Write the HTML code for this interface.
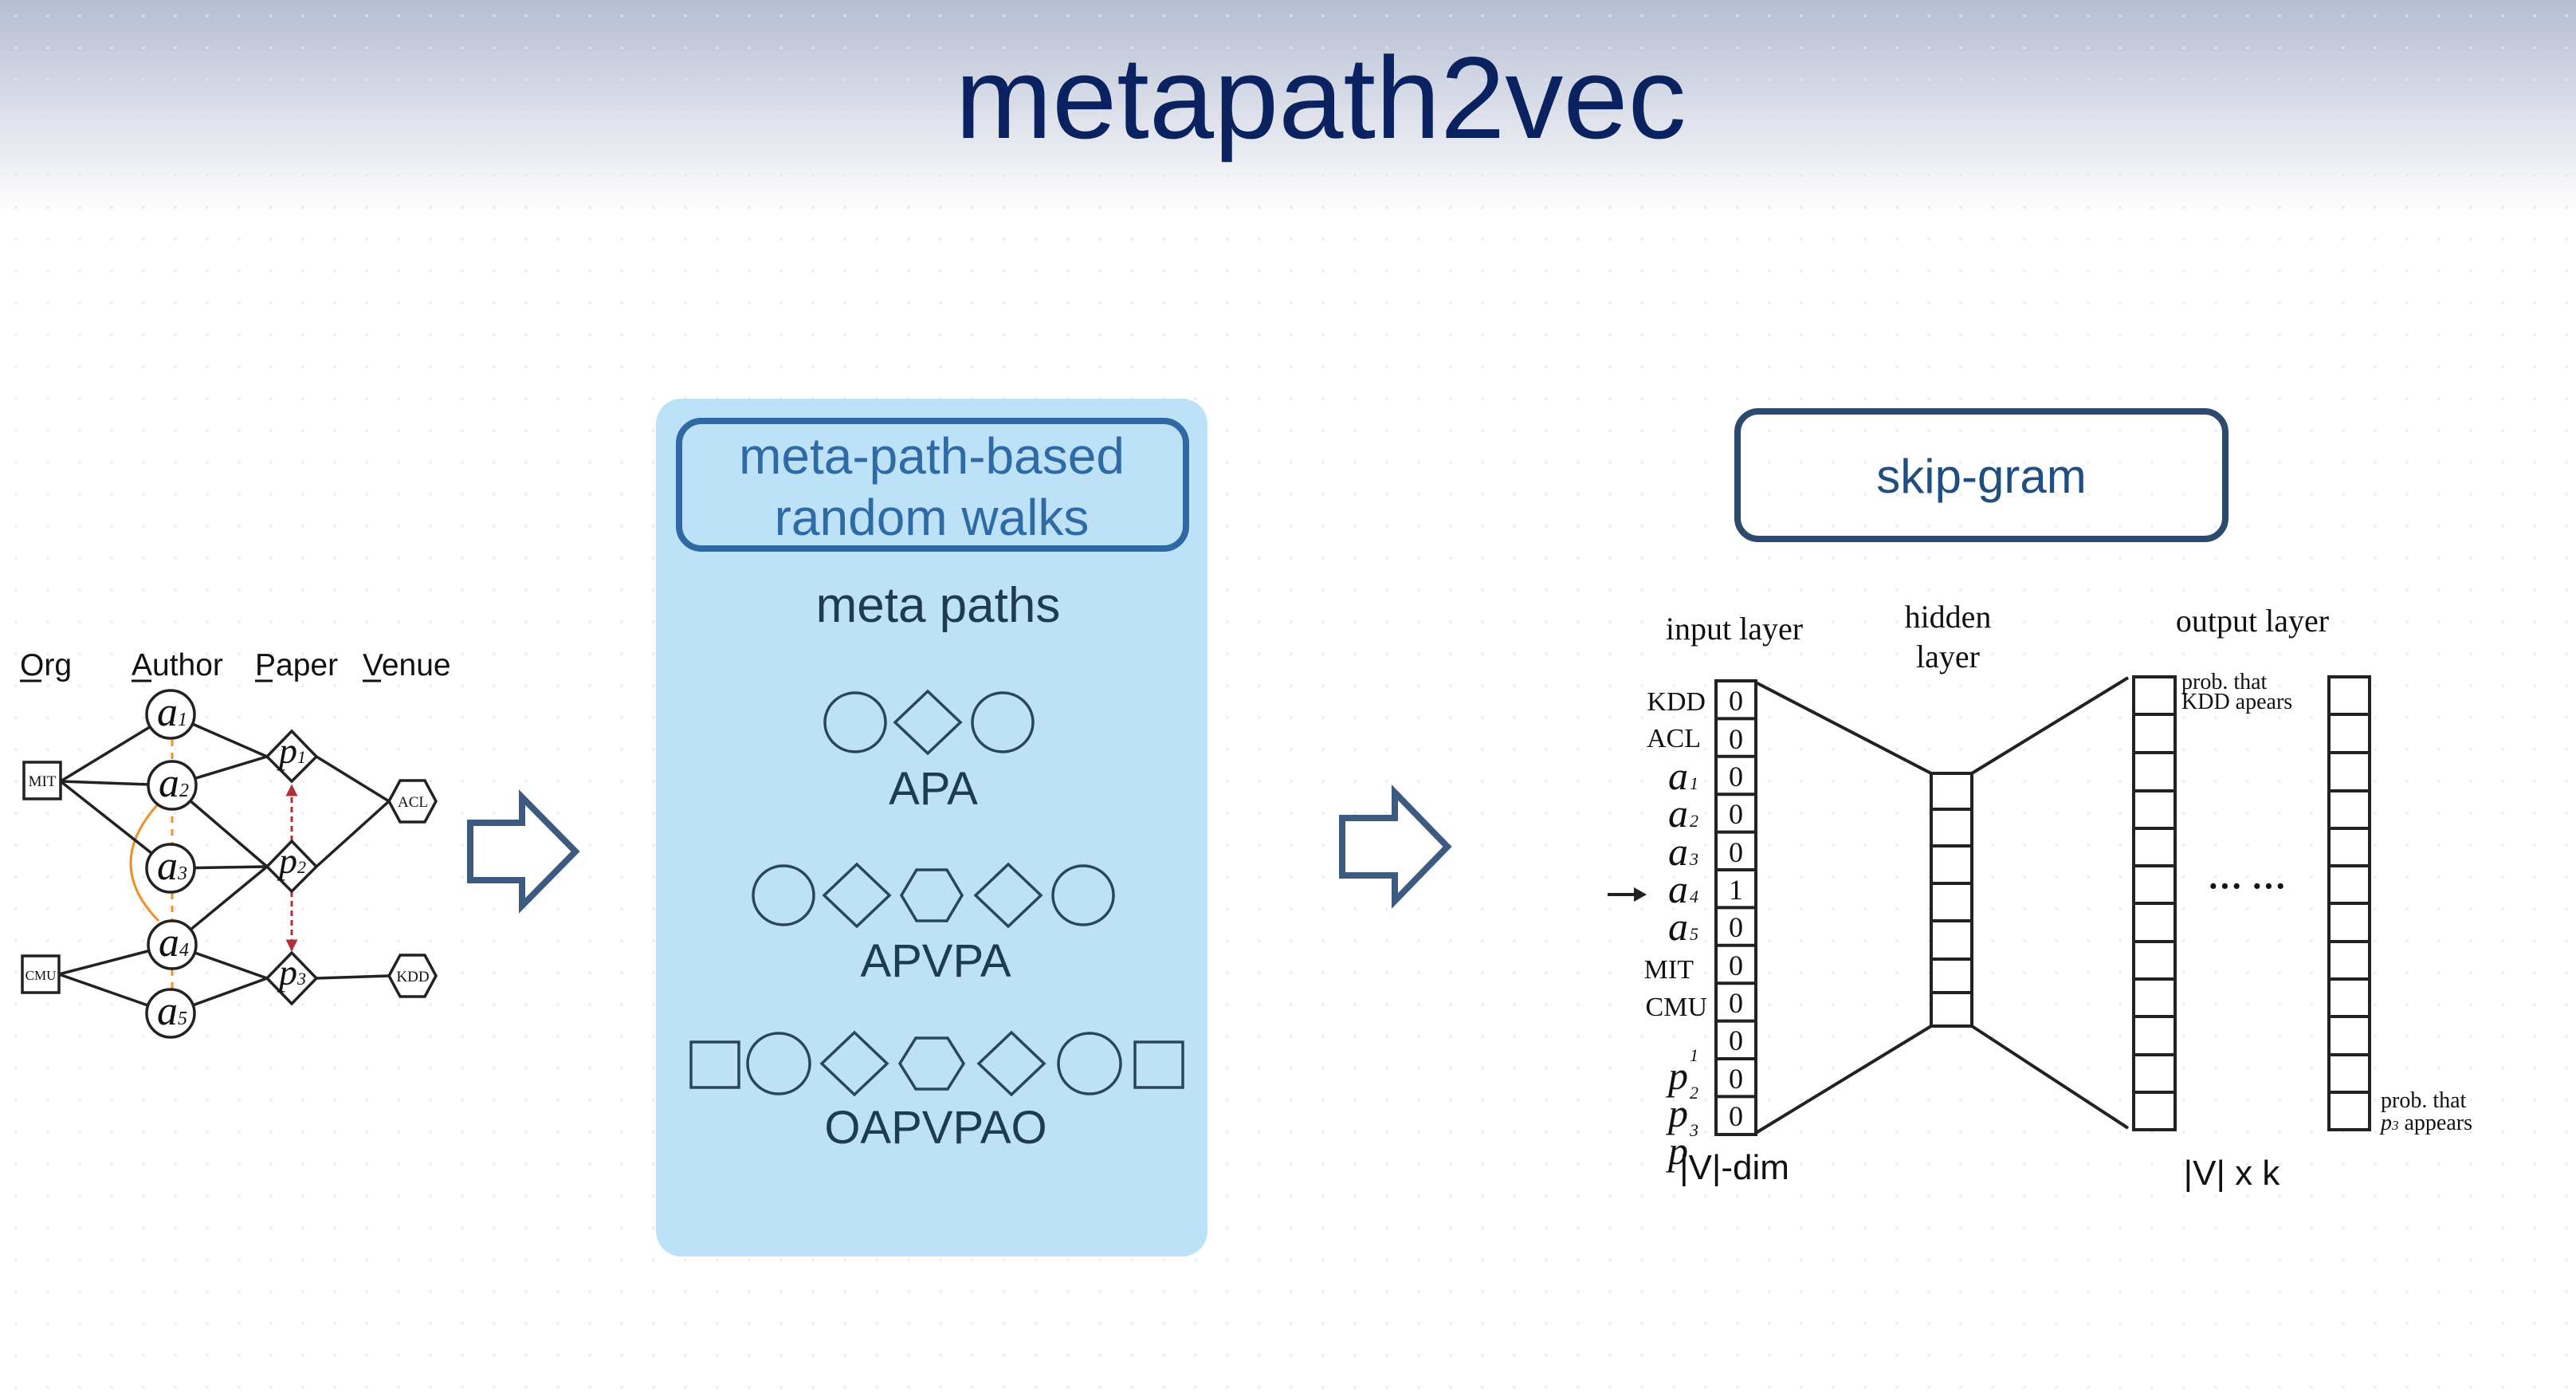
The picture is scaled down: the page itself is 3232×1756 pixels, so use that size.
<!DOCTYPE html>
<html><head><meta charset="utf-8"><style>
html,body{margin:0;padding:0;background:#fff;}
svg{display:block;}
</style></head><body>
<svg width="3232" height="1756" viewBox="0 0 3232 1756" xmlns="http://www.w3.org/2000/svg">
<defs>
<linearGradient id="bg" x1="0" y1="0" x2="0" y2="1">
<stop offset="0" stop-color="#b6bdd2"/><stop offset="1" stop-color="#ffffff"/>
</linearGradient>
<pattern id="dots" width="40" height="40" patternUnits="userSpaceOnUse">
<circle cx="20" cy="20" r="2" fill="#e4e5ec"/>
</pattern>
<marker id="ar" viewBox="0 0 10 10" refX="9" refY="5" markerWidth="5" markerHeight="5" orient="auto-start-reverse">
<path d="M0,0 L10,5 L0,10 z" fill="#b0303a"/>
</marker>
</defs>
<rect width="3232" height="1756" fill="#fff"/>
<rect width="3232" height="270" fill="url(#bg)"/>
<rect width="3232" height="1756" fill="url(#dots)" opacity="0.7"/>

<text x="1657" y="173" text-anchor="middle" font-family="Liberation Sans, sans-serif" font-size="146" fill="#0a2260">metapath2vec</text>

<!-- Left graph -->
<g font-family="Liberation Sans, sans-serif" font-size="39" fill="#111">
<text x="25" y="847">Org</text>
<text x="165" y="847">Author</text>
<text x="320" y="847">Paper</text>
<text x="455" y="847">Venue</text>
</g>
<g stroke="#111" stroke-width="3">
<line x1="25" y1="854" x2="52" y2="854"/>
<line x1="165" y1="854" x2="190" y2="854"/>
<line x1="320" y1="854" x2="342" y2="854"/>
<line x1="455" y1="854" x2="478" y2="854"/>
</g>
<g stroke="#f0902a" stroke-width="3" fill="none">
<line x1="216" y1="896" x2="216" y2="1271" stroke-dasharray="8,8"/>
<path d="M197,1010 Q130,1085 199,1155"/>
</g>
<g stroke="#222" stroke-width="3.5" fill="none">
<line x1="76" y1="980" x2="214" y2="896"/>
<line x1="76" y1="980" x2="216" y2="985"/>
<line x1="76" y1="980" x2="214" y2="1089"/>
<line x1="74" y1="1222" x2="216" y2="1185"/>
<line x1="74" y1="1222" x2="214" y2="1271"/>
<line x1="214" y1="896" x2="335" y2="949"/>
<line x1="216" y1="985" x2="335" y2="949"/>
<line x1="216" y1="985" x2="335" y2="1087"/>
<line x1="214" y1="1089" x2="335" y2="1087"/>
<line x1="216" y1="1185" x2="335" y2="1087"/>
<line x1="216" y1="1185" x2="335" y2="1227"/>
<line x1="214" y1="1271" x2="335" y2="1227"/>
<line x1="397" y1="949" x2="488" y2="1005"/>
<line x1="397" y1="1087" x2="488" y2="1005"/>
<line x1="397" y1="1227" x2="488" y2="1224"/>
</g>
<g stroke="#b0303a" stroke-width="3" stroke-dasharray="7,5" fill="none">
<line x1="366" y1="1055" x2="366" y2="985" marker-end="url(#ar)"/>
<line x1="366" y1="1118" x2="366" y2="1192" marker-end="url(#ar)"/>
</g>
<g stroke="#222" stroke-width="3.5" fill="#fff">
<rect x="30" y="956" width="46" height="46"/>
<rect x="28" y="1199" width="46" height="46"/>
<circle cx="214" cy="896" r="30"/>
<circle cx="216" cy="985" r="30"/>
<circle cx="214" cy="1089" r="30"/>
<circle cx="216" cy="1185" r="30"/>
<circle cx="214" cy="1271" r="30"/>
<polygon points="335,949 366,917 397,949 366,980"/>
<polygon points="335,1087 366,1055 397,1087 366,1118"/>
<polygon points="335,1227 366,1195 397,1227 366,1259"/>
<polygon points="488,1005 502,979 533,979 547,1005 533,1031 502,1031"/>
<polygon points="488,1224 502,1198 533,1198 547,1224 533,1250 502,1250"/>
</g>
<g font-family="Liberation Serif, serif" fill="#111">
<text x="53" y="986" font-size="19" text-anchor="middle">MIT</text>
<text x="51" y="1229" font-size="17" text-anchor="middle">CMU</text>
<text x="518" y="1012" font-size="19" text-anchor="middle">ACL</text>
<text x="518" y="1231" font-size="19" text-anchor="middle">KDD</text>
<g font-style="italic">
<text x="197" y="910" font-size="52">a<tspan font-size="24">1</tspan></text>
<text x="199" y="999" font-size="52">a<tspan font-size="24">2</tspan></text>
<text x="197" y="1103" font-size="52">a<tspan font-size="24">3</tspan></text>
<text x="199" y="1199" font-size="52">a<tspan font-size="24">4</tspan></text>
<text x="197" y="1285" font-size="52">a<tspan font-size="24">5</tspan></text>
<text x="350" y="957" font-size="46">p<tspan font-size="22">1</tspan></text>
<text x="350" y="1095" font-size="46">p<tspan font-size="22">2</tspan></text>
<text x="350" y="1235" font-size="46">p<tspan font-size="22">3</tspan></text>
</g>
</g>

<!-- Big arrows -->
<g fill="#fff" stroke="#3d5a80" stroke-width="8" stroke-linejoin="miter">
<polygon points="590,1032 655,1032 655,1000 722,1068 655,1136 655,1104 590,1104"/>
<polygon points="1684,1026 1750,1026 1750,994 1816,1062 1750,1130 1750,1098 1684,1098"/>
</g>

<!-- Middle panel -->
<rect x="823" y="500" width="692" height="1076" rx="32" fill="#bde1f6"/>
<rect x="852" y="528" width="636" height="160" rx="28" fill="none" stroke="#2f69a3" stroke-width="8"/>
<g font-family="Liberation Sans, sans-serif" text-anchor="middle">
<text x="1169" y="594" font-size="64" fill="#2e6aa6">meta-path-based</text>
<text x="1169" y="671" font-size="64" fill="#2e6aa6">random walks</text>
<text x="1177" y="780" font-size="62" fill="#1e3a55">meta paths</text>
<text x="1171" y="1009" font-size="58" fill="#1e3a55">APA</text>
<text x="1174" y="1225" font-size="58" fill="#1e3a55">APVPA</text>
<text x="1174" y="1434" font-size="58" fill="#1e3a55">OAPVPAO</text>
</g>
<g fill="none" stroke="#2a4560" stroke-width="3.5">
<ellipse cx="1073" cy="906" rx="38" ry="37"/>
<polygon points="1123,906 1164,867 1205,906 1164,945"/>
<ellipse cx="1258" cy="906" rx="38" ry="37"/>
<ellipse cx="983" cy="1123" rx="38" ry="37"/>
<polygon points="1034,1123 1075,1084 1116,1123 1075,1162"/>
<polygon points="1131,1123 1150,1091 1188,1091 1207,1123 1188,1155 1150,1155"/>
<polygon points="1224,1123 1265,1084 1306,1123 1265,1162"/>
<ellipse cx="1359" cy="1123" rx="38" ry="37"/>
<rect x="867" y="1307" width="60" height="57"/>
<ellipse cx="977" cy="1334" rx="39" ry="38"/>
<polygon points="1031,1334 1072,1295 1113,1334 1072,1373"/>
<polygon points="1129,1334 1149,1302 1189,1302 1209,1334 1189,1366 1149,1366"/>
<polygon points="1228,1334 1269,1295 1310,1334 1269,1373"/>
<ellipse cx="1367" cy="1334" rx="39" ry="38"/>
<rect x="1424" y="1307" width="60" height="57"/>
</g>

<!-- Skip-gram -->
<rect x="2180" y="516" width="612" height="160" rx="26" fill="none" stroke="#2b4a6e" stroke-width="8"/>
<text x="2486" y="618" text-anchor="middle" font-family="Liberation Sans, sans-serif" font-size="60" fill="#1f4e80">skip-gram</text>

<g font-family="Liberation Serif, serif" fill="#111" text-anchor="middle" font-size="40">
<text x="2176" y="802">input layer</text>
<text x="2444" y="787">hidden</text>
<text x="2444" y="837">layer</text>
<text x="2826" y="792">output layer</text>
</g>
<g stroke="#222" stroke-width="4" fill="none">
<line x1="2203" y1="856" x2="2423" y2="970"/>
<line x1="2203" y1="1421" x2="2423" y2="1287"/>
<line x1="2474" y1="970" x2="2670" y2="850"/>
<line x1="2474" y1="1287" x2="2670" y2="1415"/>
<rect x="2153" y="854" width="50" height="569" fill="#fff"/>
<path d="M2153,901.4h50M2153,948.8h50M2153,996.2h50M2153,1043.6h50M2153,1091h50M2153,1138.4h50M2153,1185.8h50M2153,1233.2h50M2153,1280.6h50M2153,1328h50M2153,1375.4h50"/>
<rect x="2423" y="970" width="51" height="317" fill="#fff"/>
<path d="M2423,1015h51M2423,1061h51M2423,1108h51M2423,1155h51M2423,1203h51M2423,1245h51"/>
<rect x="2677" y="849" width="52" height="568" fill="#fff"/>
<path d="M2677,896h52M2677,944h52M2677,992h52M2677,1039h52M2677,1086h52M2677,1133h52M2677,1181h52M2677,1228h52M2677,1275h52M2677,1323h52M2677,1370h52"/>
<rect x="2922" y="849" width="51" height="568" fill="#fff"/>
<path d="M2922,896h51M2922,944h51M2922,992h51M2922,1039h51M2922,1086h51M2922,1133h51M2922,1181h51M2922,1228h51M2922,1275h51M2922,1323h51M2922,1370h51"/>
<line x1="2017" y1="1122" x2="2058" y2="1122"/>
</g>
<polygon points="2066,1122 2050,1113 2050,1131" fill="#222"/>
<g font-family="Liberation Serif, serif" fill="#111" font-size="36" text-anchor="middle">
<text x="2178" y="891">0</text><text x="2178" y="939">0</text><text x="2178" y="986">0</text>
<text x="2178" y="1033">0</text><text x="2178" y="1081">0</text><text x="2178" y="1128">1</text>
<text x="2178" y="1175">0</text><text x="2178" y="1223">0</text><text x="2178" y="1270">0</text>
<text x="2178" y="1317">0</text><text x="2178" y="1365">0</text><text x="2178" y="1412">0</text>
</g>
<g font-family="Liberation Serif, serif" fill="#111" text-anchor="end">
<text x="2140" y="891" font-size="34">KDD</text>
<text x="2134" y="937" font-size="34">ACL</text>
<g font-style="italic" font-size="50">
<text x="2118" y="990">a</text><text x="2118" y="1037">a</text><text x="2118" y="1085">a</text>
<text x="2118" y="1132">a</text><text x="2118" y="1179">a</text>
<text x="2118" y="1366">p</text><text x="2118" y="1413">p</text><text x="2118" y="1460">p</text>
</g>
<text x="2125" y="1227" font-size="34">MIT</text>
<text x="2142" y="1274" font-size="34">CMU</text>
</g>
<g font-family="Liberation Serif, serif" font-style="italic" fill="#111" font-size="22">
<text x="2120" y="990">1</text><text x="2120" y="1037">2</text><text x="2120" y="1085">3</text>
<text x="2120" y="1132">4</text><text x="2120" y="1179">5</text>
<text x="2120" y="1331">1</text><text x="2120" y="1378">2</text><text x="2120" y="1425">3</text>
</g>
<g font-family="Liberation Serif, serif" fill="#111" font-size="28">
<text x="2737" y="864">prob. that</text>
<text x="2737" y="889">KDD apears</text>
<text x="2987" y="1389">prob. that</text>
<text x="2987" y="1417"><tspan font-style="italic">p</tspan><tspan font-size="17" font-style="italic">3</tspan> appears</text>
</g>
<text x="2819" y="1126" text-anchor="middle" font-family="Liberation Serif, serif" font-size="44" font-weight="bold" fill="#111">··· ···</text>
<g font-family="Liberation Sans, sans-serif" font-size="44" fill="#111" text-anchor="middle">
<text x="2176" y="1479">|V|-dim</text>
<text x="2800" y="1486">|V| x k</text>
</g>
</svg>
</body></html>
